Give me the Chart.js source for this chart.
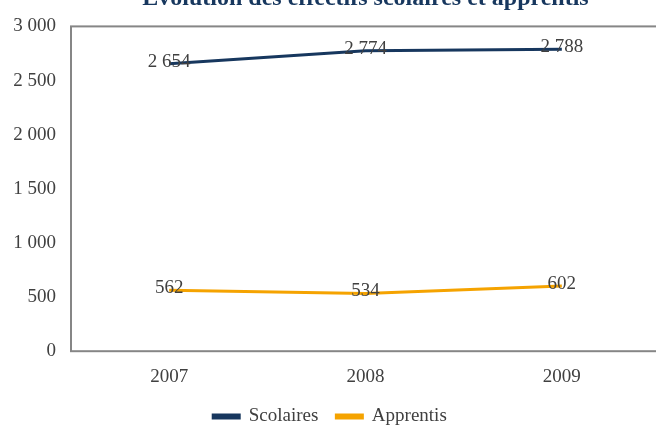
<!DOCTYPE html>
<html>
<head>
<meta charset="utf-8">
<script src="https://cdn.jsdelivr.net/npm/chart.js@4/dist/chart.umd.min.js"></script>
<style>
    html, body { margin: 0; padding: 0; background: #fff; overflow: hidden; }
    #wrap { position: relative; width: 662px; height: 427px; }
</style>
</head>
<body>
<div id="wrap"><canvas id="myChart"></canvas></div>
<script>
    "use strict";

    var years = ['2007', '2008', '2009'];
    var scolaires = [2654, 2774, 2788];
    var apprentis = [562, 534, 602];
    var yTicks = [0, 500, 1000, 1500, 2000, 2500, 3000];

    var FONT = '"Liberation Serif", "DejaVu Serif", serif';
    var TEXT = '#404040';

    function fmt(v) {
        return String(v).replace(/\B(?=(\d{3})+(?!\d))/g, ' ');
    }

    /* title, plot frame and value labels */
    var extras = {
        id: 'extras',
        beforeDatasetsDraw: function (chart) {
            var a = chart.chartArea, c = chart.ctx;
            c.save();
            c.strokeStyle = '#868686';
            c.lineWidth = 2;
            c.strokeRect(a.left, a.top, a.right - a.left, a.bottom - a.top);
            c.restore();
        },
        afterDatasetsDraw: function (chart) {
            var c = chart.ctx, a = chart.chartArea;
            c.save();
            c.font = '19px ' + FONT;
            c.fillStyle = TEXT;
            c.textAlign = 'center';
            c.textBaseline = 'middle';
            chart.data.datasets.forEach(function (ds, i) {
                chart.getDatasetMeta(i).data.forEach(function (pt, j) {
                    c.fillText(fmt(ds.data[j]), pt.x, pt.y - 2);
                });
            });
            c.font = 'bold 24px ' + FONT;
            c.fillStyle = '#17375E';
            c.textBaseline = 'alphabetic';
            c.fillText('Évolution des effectifs scolaires et apprentis', (a.left + a.right) / 2, 5);
            c.restore();
        }
    };

    var ctx = document.getElementById('myChart').getContext('2d');
    var chart = new Chart(ctx, {
        type: 'line',
        data: {
            labels: years,
            datasets: [
                {
                    label: 'Scolaires',
                    data: scolaires,
                    borderColor: '#17375E',
                    backgroundColor: '#17375E',
                    borderWidth: 3,
                    pointRadius: 0,
                    tension: 0
                },
                {
                    label: 'Apprentis',
                    data: apprentis,
                    borderColor: '#F5A300',
                    backgroundColor: '#F5A300',
                    borderWidth: 3,
                    pointRadius: 0,
                    tension: 0
                }
            ]
        },
        options: {
            responsive: true,
            maintainAspectRatio: false,
            animation: false,
            layout: { padding: { top: 20, right: 2, bottom: -9, left: 0 } },
            plugins: {
                title: { display: false },
                tooltip: { enabled: false },
                legend: {
                    position: 'bottom',
                    labels: {
                        boxWidth: 26,
                        boxHeight: 3,
                        padding: 18,
                        color: TEXT,
                        font: { family: FONT, size: 19 }
                    }
                }
            },
            scales: {
                x: {
                    offset: true,
                    afterFit: function (scale) { scale.height -= 13; },
                    grid: { display: false, drawTicks: false, offset: true },
                    border: { display: false },
                    ticks: {
                        padding: 14,
                        color: TEXT,
                        font: { family: FONT, size: 19 }
                    }
                },
                y: {
                    min: 0,
                    max: 3000,
                    afterBuildTicks: function (scale) {
                        scale.ticks = yTicks.map(function (v) { return { value: v }; });
                    },
                    afterFit: function (scale) { scale.width = 71; },
                    grid: { display: false, drawTicks: false },
                    border: { display: false },
                    ticks: {
                        padding: 15,
                        color: TEXT,
                        font: { family: FONT, size: 19 },
                        callback: function (v) { return fmt(v); }
                    }
                }
            }
        },
        plugins: [extras]
    });
</script>
</body>
</html>
